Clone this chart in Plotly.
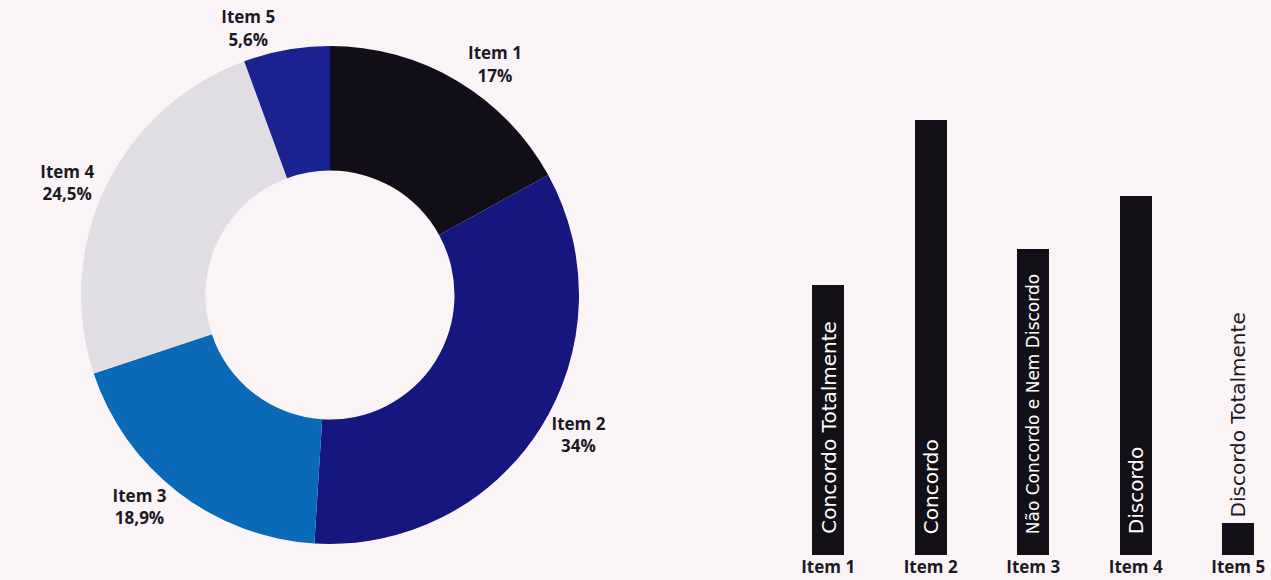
import plotly.graph_objects as go

# Donut: share of each item (percent)
pie_labels = ["Item 1", "Item 2", "Item 3", "Item 4", "Item 5"]
pie_values = [17, 34, 18.9, 24.5, 5.6]
pie_colors = ["#110e18", "#15177f", "#0b6ab7", "#e1dee3", "#1a2190"]

# Bars: response counts per item
bar_items = ["Item 1", "Item 2", "Item 3", "Item 4", "Item 5"]
bar_values = [28.4, 45.8, 32.2, 37.8, 3.4]
bar_answers = [
    "Concordo Totalmente",
    "Concordo",
    "Não Concordo e Nem Discordo",
    "Discordo",
    "Discordo Totalmente",
]
# the longest answer is set a little smaller so it stays within its bar
answer_sizes = [20, 20, 17, 20, 20]

W, H = 1271, 580
BG = "#fbf4f7"
TXT = "#1b1a24"

pie_text = [
    "<b>{}<br>{}%</b>".format(lab, ("{:g}".format(v)).replace(".", ","))
    for lab, v in zip(pie_labels, pie_values)
]

fig = go.Figure()

fig.add_trace(go.Pie(
    labels=pie_labels,
    values=pie_values,
    text=pie_text,
    textinfo="text",
    textposition="outside",
    hole=0.5,
    sort=False,
    direction="clockwise",
    rotation=0,
    marker=dict(colors=pie_colors, line=dict(width=0)),
    textfont=dict(family="Open Sans", size=17, color=TXT),
    showlegend=False,
    automargin=False,
    domain=dict(x=[81 / W, 579 / W], y=[36 / H, 534 / H]),
))

xs = list(range(len(bar_items)))
fig.add_trace(go.Bar(
    x=xs,
    y=bar_values,
    width=0.31,
    marker=dict(color="#121016", line=dict(width=0)),
    showlegend=False,
    xaxis="x",
    yaxis="y",
))

# Answer labels written vertically on (or above) each bar
for i, (ans, v, fs) in enumerate(zip(bar_answers, bar_values, answer_sizes)):
    inside = i < len(bar_answers) - 1
    fig.add_annotation(
        x=xs[i], y=0 if inside else v,
        xref="x", yref="y",
        text=ans,
        textangle=-90,
        showarrow=False,
        xanchor="center", yanchor="bottom",
        yshift=19 if inside else 3,
        font=dict(family="DejaVu Sans", size=fs, color="white" if inside else TXT),
    )

fig.update_layout(
    width=W, height=H,
    margin=dict(l=0, r=0, t=0, b=0, autoexpand=False),
    paper_bgcolor=BG,
    plot_bgcolor=BG,
    bargap=0,
    xaxis=dict(
        domain=[780 / W, 1.0],
        range=[-0.47, 4.32],
        tickmode="array",
        tickvals=xs,
        ticktext=["<b>{}</b>".format(t) for t in bar_items],
        tickfont=dict(family="Open Sans", size=17, color=TXT),
        showgrid=False, zeroline=False, showline=False,
        ticks="", ticklen=0,
        automargin=False,
        fixedrange=True,
    ),
    yaxis=dict(
        domain=[25 / H, 500 / H],
        range=[0, 50],
        visible=False,
        showgrid=False, zeroline=False,
        automargin=False,
        fixedrange=True,
    ),
)

fig.write_html("out.html")
